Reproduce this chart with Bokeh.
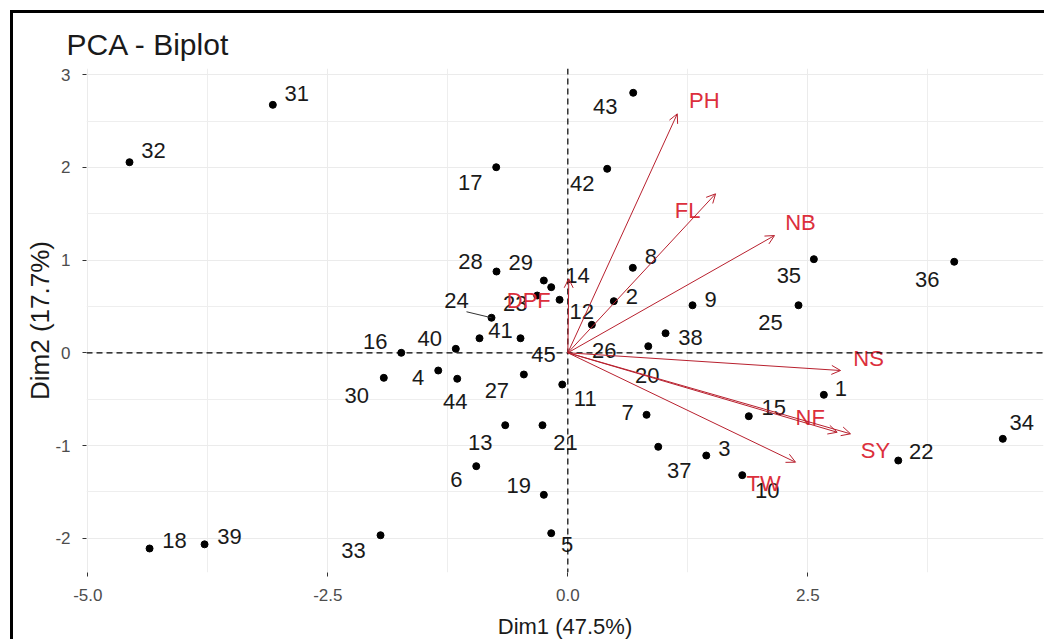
from bokeh.plotting import figure
from bokeh.models import ColumnDataSource, FixedTicker, Arrow, OpenHead, Span, Range1d
from bokeh.embed import file_html
from bokeh.resources import INLINE
from bokeh.core.properties import value

# ---------------- data ----------------
obs_names = [str(i) for i in range(1, 46)]
dim1 = [2.667, 0.479, 1.442, -1.350, -0.173, -0.954, 0.820, 0.677, 1.299, 1.817,
        -0.058, 0.250, -0.652, -0.086, 1.885, -1.735, -0.746, -4.357, -0.250, 0.838,
        -0.264, 3.442, -0.319, -0.795, 2.403, -0.173, -0.458, -0.743, -0.250, -1.917,
        -3.073, -4.566, -1.951, 4.531, 2.563, 4.025, 0.942, 1.018, -3.784, -1.167,
        -0.920, 0.410, 0.681, -1.152, -0.493]
dim2 = [-0.453, 0.557, -1.108, -0.191, -1.946, -1.223, -0.669, 0.917, 0.513, -1.320,
        -0.342, 0.302, -0.781, 0.572, -0.684, 0.000, 2.002, -2.111, -1.532, 0.071,
        -0.781, -1.162, 0.618, 0.378, 0.513, 0.708, -0.234, 0.877, 0.780, -0.270,
        2.675, 2.056, -1.968, -0.928, 1.010, 0.982, -1.014, 0.211, -2.066, 0.043,
        0.157, 1.985, 2.805, -0.280, 0.157]

var_names = ["PH", "FL", "NB", "NS", "NF", "SY", "TW", "DPF"]
var_dim1 = [1.140, 1.539, 2.153, 2.841, 2.806, 2.945, 2.372, 0.010]
var_dim2 = [2.578, 1.715, 1.265, -0.191, -0.857, -0.874, -1.180, 0.798]

x_ticks = [-5.0, -2.5, 0.0, 2.5]
x_tick_labels = ["-5.0", "-2.5", "0.0", "2.5"]
y_ticks = [-2, -1, 0, 1, 2, 3]
y_tick_labels = ["-2", "-1", "0", "1", "2", "3"]

title_text = "PCA - Biplot"
x_title = "Dim1 (47.5%)"
y_title = "Dim2 (17.7%)"

# ---------------- layout (label placement offsets, px) ----------------
obs_dx = [17, 18, 18, -20, 16, -20, -19, 18, 18, 25,
          23, -10, -25, 18, 25, -26, -26, 25, -25, -1,
          23, 23, -22, -35, -28, 53, -27, -26, -23, -27,
          24, 24, -27, 19, -25, -27, 21, 25, 25, -26,
          21, -25, -28, -2, 23]
obs_dy = [-6, -5, -7, 7, 11, 13, -2, -11, -6, 15,
          14, -13, 17, -24, -9, -11, 15, -8, -9, 29,
          17, -9, 8, -17, 17, 63, 16, -10, -18, 18,
          -11, -12, 15, -16, 16, 18, 24, 4, -8, -10,
          -8, 15, 14, 23, 16]
var_dx = [27, -28, 26, 28, -27, 25, -32, -40]
var_dy = [-13, 17, -13, -12, -15, 17, 21, 22]
seg_label = "24"
seg_px = (-25, -6)

FONT = "Liberation Sans"
X_RANGE = (-5.014, 4.955)
Y_RANGE = (-2.370, 3.067)
W, H = 1034, 629
ML, MR, MT, MB = 73, 4, 55, 70

p = figure(width=W, height=H, output_backend="svg", toolbar_location=None,
           x_range=Range1d(*X_RANGE), y_range=Range1d(*Y_RANGE),
           min_border_left=ML, min_border_right=MR, min_border_top=MT, min_border_bottom=MB)
p.styles = {"border-left": "3px solid black", "border-top": "3px solid black",
            "margin-left": "10px", "margin-top": "10px"}
p.outline_line_color = None
p.background_fill_color = "white"
p.border_fill_color = "white"

p.title.text = title_text
p.title.text_font = FONT
p.title.text_font_size = "30px"
p.title.text_font_style = "normal"
p.title.text_color = "#1a1a1a"
p.title.align = "left"
p.title.offset = -20
p.title.standoff = 16

# ticks & grid
xs = x_ticks[1] - x_ticks[0]
x_minor = [t + xs / 2 for t in x_ticks]
y_minor = [t + 0.5 for t in y_ticks] + [y_ticks[0] - 0.5]
p.xaxis.ticker = FixedTicker(ticks=x_ticks, minor_ticks=x_minor)
p.yaxis.ticker = FixedTicker(ticks=y_ticks, minor_ticks=y_minor)
p.xaxis.major_label_overrides = {t: l for t, l in zip(x_ticks, x_tick_labels)}
p.yaxis.major_label_overrides = {t: l for t, l in zip(y_ticks, y_tick_labels)}
for g in (p.xgrid, p.ygrid):
    g.grid_line_color = "#EBEBEB"
    g.grid_line_width = 1
    g.minor_grid_line_color = "#EEEEEE"
    g.minor_grid_line_width = 1
for ax in (p.xaxis, p.yaxis):
    ax.axis_line_color = None
    ax.major_tick_line_color = "#333333"
    ax.major_tick_out = 4
    ax.major_tick_in = 0
    ax.minor_tick_line_color = None
    ax.major_label_text_font = FONT
    ax.major_label_text_font_size = "17px"
    ax.major_label_text_color = "#4D4D4D"
    ax.axis_label_text_font = FONT
    ax.axis_label_text_font_style = "normal"
    ax.axis_label_text_color = "#1a1a1a"
p.xaxis.axis_label_text_font_size = "22px"
p.yaxis.axis_label_text_font_size = "26px"
p.xaxis.axis_label = x_title
p.yaxis.axis_label = y_title
p.xaxis.major_label_standoff = 12
p.yaxis.major_label_standoff = 12
p.xaxis.axis_label_standoff = 10
p.yaxis.axis_label_standoff = -3

# zero lines
p.add_layout(Span(location=0, dimension="height", line_color="black", line_width=1.2, line_dash="6 4"))
p.add_layout(Span(location=0, dimension="width", line_color="black", line_width=1.2, line_dash="6 4"))

# observations
obs = ColumnDataSource(dict(x=dim1, y=dim2, name=obs_names, dx=obs_dx, dy=obs_dy))
p.scatter("x", "y", source=obs, size=7, color="black")

# segment for repelled label
i = obs_names.index(seg_label)
sx = (X_RANGE[1] - X_RANGE[0]) / (W - ML - MR)
sy = (Y_RANGE[1] - Y_RANGE[0]) / (H - MT - MB)
p.segment(x0=[dim1[i]], y0=[dim2[i]], x1=[dim1[i] + seg_px[0] * sx], y1=[dim2[i] - seg_px[1] * sy],
          line_color="#333333", line_width=1)

# variable arrows
ARROW_COL = "#B8202E"
TEXT_COL = "#DC2F3C"
var_src = ColumnDataSource(dict(x0=[0] * len(var_names), y0=[0] * len(var_names),
                                x1=var_dim1, y1=var_dim2, name=var_names, dx=var_dx, dy=var_dy))
p.add_layout(Arrow(end=OpenHead(size=9, line_color=ARROW_COL, line_width=1),
                   x_start="x0", y_start="y0", x_end="x1", y_end="y1", source=var_src,
                   line_color=ARROW_COL, line_width=1))

p.text("x", "y", text="name", source=obs, x_offset="dx", y_offset="dy",
       text_font=value(FONT), text_font_size="22px", text_color="#1a1a1a",
       text_align="center", text_baseline="middle")
p.text("x1", "y1", text="name", source=var_src, x_offset="dx", y_offset="dy",
       text_font=value(FONT), text_font_size="22px", text_color=TEXT_COL,
       text_align="center", text_baseline="middle")

open("out.html", "w").write(file_html(p, INLINE))
